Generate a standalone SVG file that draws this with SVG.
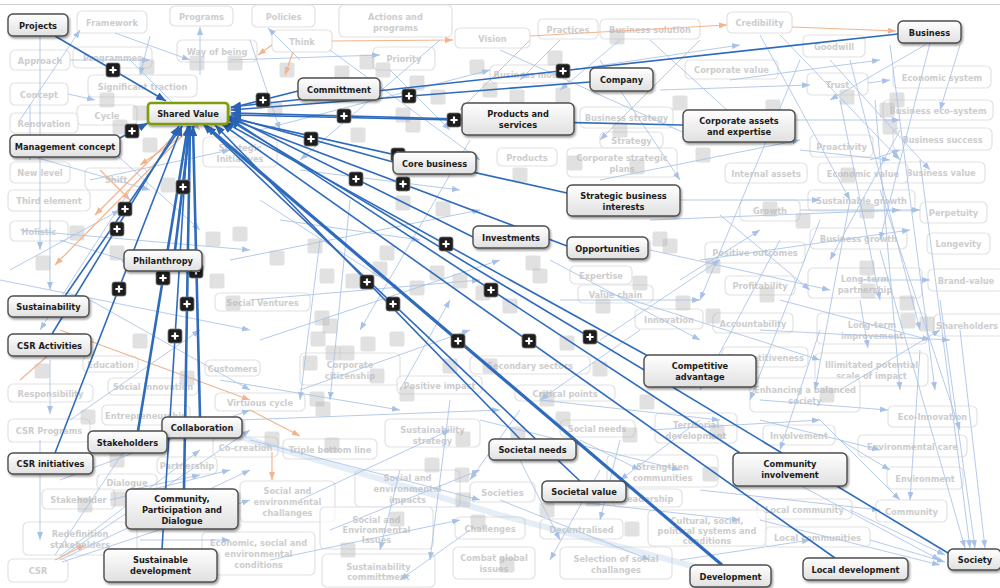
<svg xmlns="http://www.w3.org/2000/svg" xmlns:xlink="http://www.w3.org/1999/xlink" width="1000" height="588" viewBox="0 0 1000 588">
<defs>
<style>
text{font-family:"DejaVu Sans Condensed","DejaVu Sans","Liberation Sans",sans-serif;font-stretch:condensed;font-weight:bold;font-size:9.2px;text-anchor:middle}
.fn rect{fill:#fff;fill-opacity:.65;stroke:#e2e2e2;stroke-width:1.2}
.fn text{fill:#cdcdcd}
.mn rect{fill:url(#gw);stroke:#4d4d4d;stroke-width:1.4;filter:url(#sh)}
.mn text{fill:#1b1b1b}
.lt path{fill:none;stroke:#a8c2e6;stroke-width:1;stroke-opacity:.85;marker-end:url(#ma)}
.or path{fill:none;stroke:#f1b48f;stroke-width:1.2;marker-end:url(#mo)}
.dk path{fill:none;stroke:#2f6bbd;stroke-width:1.6;marker-end:url(#md)}
.dk path.w{stroke-width:2.6}
.dk path.x{stroke-width:3.2}
</style>
<linearGradient id="gw" x1="0" y1="0" x2="0" y2="1"><stop offset="0" stop-color="#ffffff"/><stop offset="1" stop-color="#e0e0e0"/></linearGradient>
<filter id="sh" x="-10%" y="-20%" width="130%" height="160%"><feDropShadow dx="1.2" dy="1.8" stdDeviation="1.3" flood-color="#000" flood-opacity=".4"/></filter>
<marker id="ma" viewBox="0 0 8 6" refX="8" refY="3" markerWidth="8" markerHeight="6" markerUnits="userSpaceOnUse" orient="auto"><path d="M0 0L8 3L0 6z" fill="#a8c2e6"/></marker>
<marker id="mo" viewBox="0 0 8 6" refX="8" refY="3" markerWidth="8" markerHeight="6" markerUnits="userSpaceOnUse" orient="auto"><path d="M0 0L8 3L0 6z" fill="#f1b48f"/></marker>
<marker id="md" viewBox="0 0 10 8" refX="10" refY="4" markerWidth="10" markerHeight="8" markerUnits="userSpaceOnUse" orient="auto"><path d="M0 0L10 4L0 8z" fill="#2a63b3"/></marker>
<g id="pb"><rect x="-7" y="-7" width="14" height="14" rx="2.5" fill="#1d1d1d" stroke="#777" stroke-width=".8"/><path d="M-3.6 0H3.6M0-3.6V3.6" stroke="#fff" stroke-width="2.2"/></g>
<rect id="gq" x="-7.5" y="-7.5" width="15" height="15" rx="2" fill="#b7b7b7" fill-opacity=".42"/>
</defs>
<rect width="1000" height="588" fill="#fff"/>
<path d="M0 4.5H1000" stroke="#cfcfcf" stroke-width="1.2"/>

<!-- background concept nodes -->
<g class="fn">
<g id="f-framework"><rect x="77" y="11" width="70" height="22" rx="5"/><text x="112" y="25.5">Framework</text></g>
<g id="f-programs"><rect x="170" y="6" width="63" height="20" rx="5"/><text x="201.5" y="19.5">Programs</text></g>
<g id="f-policies"><rect x="252" y="5" width="63" height="22" rx="5"/><text x="283.5" y="19.5">Policies</text></g>
<g id="f-actions"><rect x="339" y="5" width="113" height="32" rx="5"/><text x="395.5" y="19.5">Actions and</text><text x="395.5" y="30.5">programs</text></g>
<g id="f-think"><rect x="272" y="30" width="60" height="22" rx="5"/><text x="302" y="44.5">Think</text></g>
<g id="f-vision"><rect x="455" y="28" width="75" height="20" rx="5"/><text x="492.5" y="41.5">Vision</text></g>
<g id="f-priority"><rect x="373" y="47" width="62" height="23" rx="5"/><text x="404" y="62">Priority</text></g>
<g id="f-practices"><rect x="538" y="19" width="60" height="20" rx="5"/><text x="568" y="32.5">Practices</text></g>
<g id="f-bsolution"><rect x="600" y="19" width="100" height="20" rx="5"/><text x="650" y="32.5">Business solution</text></g>
<g id="f-credibility"><rect x="727" y="12" width="65" height="21" rx="5"/><text x="759.5" y="26">Credibility</text></g>
<g id="f-corpvalue"><rect x="685" y="60" width="93" height="19" rx="5"/><text x="731.5" y="73">Corporate value</text></g>
<g id="f-goodwill"><rect x="803" y="35" width="62" height="22" rx="5"/><text x="834" y="49.5">Goodwill</text></g>
<g id="f-econsystem"><rect x="893" y="66" width="98" height="22" rx="5"/><text x="942" y="80.5">Economic system</text></g>
<g id="f-trust"><rect x="807" y="73" width="61" height="22" rx="5"/><text x="837.5" y="87.5">Trust</text></g>
<g id="f-ecosystem"><rect x="883" y="100" width="110" height="20" rx="5"/><text x="938" y="113.5">Business eco-system</text></g>
<g id="f-bsuccess"><rect x="893" y="128" width="99" height="22" rx="5"/><text x="942.5" y="142.5">Business success</text></g>
<g id="f-proactivity"><rect x="810" y="135" width="63" height="22" rx="5"/><text x="841.5" y="149.5">Proactivity</text></g>
<g id="f-bvalue"><rect x="897" y="162" width="88" height="21" rx="5"/><text x="941" y="176">Business value</text></g>
<g id="f-econvalue"><rect x="818" y="163" width="90" height="20" rx="5"/><text x="863" y="176.5">Economic value</text></g>
<g id="f-internal"><rect x="725" y="163" width="82" height="20" rx="5"/><text x="766" y="176.5">Internal assets</text></g>
<g id="f-bstrategy"><rect x="580" y="107" width="93" height="21" rx="5"/><text x="626.5" y="121">Business strategy</text></g>
<g id="f-strategy"><rect x="600" y="132" width="63" height="16" rx="5"/><text x="631.5" y="143.5">Strategy</text></g>
<g id="f-corpplans"><rect x="567" y="148" width="110" height="29" rx="5"/><text x="622" y="160.5">Corporate strategic</text><text x="622" y="171.5">plans</text></g>
<g id="f-bmodel"><rect x="490" y="65" width="80" height="18" rx="5"/><text x="530" y="77.5">Business model</text></g>
<g id="f-products"><rect x="497" y="148" width="60" height="18" rx="5"/><text x="527" y="160.5">Products</text></g>
<g id="f-approach"><rect x="10" y="50" width="60" height="20" rx="5"/><text x="40" y="63.5">Approach</text></g>
<g id="f-programmes"><rect x="73" y="47" width="79" height="21" rx="5"/><text x="112.5" y="61">Programmes</text></g>
<g id="f-wayofbeing"><rect x="177" y="40" width="80" height="22" rx="5"/><text x="217" y="54.5">Way of being</text></g>
<g id="f-traction"><rect x="88" y="75" width="109" height="22" rx="5"/><text x="142.5" y="89.5">Significant traction</text></g>
<g id="f-concept"><rect x="10" y="83" width="58" height="22" rx="5"/><text x="39" y="97.5">Concept</text></g>
<g id="f-cycle"><rect x="77" y="105" width="60" height="20" rx="5"/><text x="107" y="118.5">Cycle</text></g>
<g id="f-renovation"><rect x="10" y="113" width="68" height="20" rx="5"/><text x="44" y="126.5">Renovation</text></g>
<g id="f-newlevel"><rect x="10" y="162" width="60" height="21" rx="5"/><text x="40" y="176">New level</text></g>
<g id="f-shift"><rect x="85" y="168" width="62" height="22" rx="5"/><text x="116" y="182.5">Shift</text></g>
<g id="f-initiatives"><rect x="203" y="137" width="74" height="30" rx="5"/><text x="240" y="150.5">Strategic</text><text x="240" y="161.5">Initiatives</text></g>
<g id="f-third"><rect x="8" y="190" width="82" height="21" rx="5"/><text x="49" y="204">Third element</text></g>
<g id="f-holistic"><rect x="10" y="221" width="58" height="20" rx="5"/><text x="39" y="234.5">Holistic</text></g>
<g id="f-ventures"><rect x="215" y="293" width="95" height="18" rx="5"/><text x="262.5" y="305.5">Social Ventures</text></g>
<g id="f-responsibility"><rect x="8" y="384" width="85" height="18" rx="5"/><text x="50.5" y="396.5">Responsibility</text></g>
<g id="f-csrprograms"><rect x="8" y="419" width="82" height="23" rx="5"/><text x="49" y="434">CSR Programs</text></g>
<g id="f-entrepreneurship"><rect x="102" y="405" width="88" height="20" rx="5"/><text x="146" y="418.5">Entrepreneurship</text></g>
<g id="f-partnership"><rect x="157" y="457" width="60" height="17" rx="5"/><text x="187" y="469">Partnership</text></g>
<g id="f-dialogue"><rect x="97" y="474" width="60" height="16" rx="5"/><text x="127" y="485.5">Dialogue</text></g>
<g id="f-stakeholder"><rect x="42" y="489" width="73" height="20" rx="5"/><text x="78.5" y="502.5">Stakeholder</text></g>
<g id="f-redefinition"><rect x="23" y="522" width="114" height="33" rx="5"/><text x="80" y="536.5">Redefinition</text><text x="80" y="547.5">stakeholders</text></g>
<g id="f-csr"><rect x="8" y="559" width="60" height="23" rx="5"/><text x="38" y="574">CSR</text></g>
<g id="f-conditions"><rect x="202" y="532" width="113" height="43" rx="5"/><text x="258.5" y="546">Economic, social and</text><text x="258.5" y="557">environmental</text><text x="258.5" y="568">conditions</text></g>
<g id="f-challanges"><rect x="240" y="481" width="95" height="41" rx="5"/><text x="287.5" y="494">Social and</text><text x="287.5" y="505">environmental</text><text x="287.5" y="516">challanges</text></g>
<g id="f-triple"><rect x="283" y="439" width="94" height="20" rx="5"/><text x="330" y="452.5">Triple bottom line</text></g>
<g id="f-virtuous"><rect x="215" y="393" width="90" height="18" rx="5"/><text x="260" y="405.5">Virtuous cycle</text></g>
<g id="f-susstrategy"><rect x="385" y="419" width="95" height="28" rx="5"/><text x="432.5" y="432.5">Sustainability</text><text x="432.5" y="443.5">strategy</text></g>
<g id="f-impacts"><rect x="355" y="470" width="105" height="37" rx="5"/><text x="407.5" y="480.5">Social and</text><text x="407.5" y="491.5">environmental</text><text x="407.5" y="502.5">impacts</text></g>
<g id="f-issues"><rect x="320" y="507" width="113" height="42" rx="5"/><text x="376.5" y="522.5">Social and</text><text x="376.5" y="532.5">Environmental</text><text x="376.5" y="542.5">Issues</text></g>
<g id="f-committment"><rect x="322" y="554" width="113" height="33" rx="5"/><text x="378.5" y="569.5">Sustainability</text><text x="378.5" y="579.5">committment</text></g>
<g id="f-cocreation"><rect x="213" y="437" width="65" height="20" rx="5"/><text x="245.5" y="450.5">Co-creation</text></g>
<g id="f-education"><rect x="83" y="356" width="55" height="16" rx="5"/><text x="110.5" y="367.5">Education</text></g>
<g id="f-socinnov"><rect x="108" y="378" width="90" height="17" rx="5"/><text x="153" y="390">Social innovation</text></g>
<g id="f-customers"><rect x="205" y="360" width="55" height="16" rx="5"/><text x="232.5" y="371.5">Customers</text></g>
<g id="f-citizenship"><rect x="300" y="353" width="100" height="32" rx="5"/><text x="350" y="367.5">Corporate</text><text x="350" y="378.5">citizenship</text></g>
<g id="f-posimpact"><rect x="397" y="376" width="85" height="18" rx="5"/><text x="439.5" y="388.5">Positive impact</text></g>
<g id="f-secondary"><rect x="470" y="356" width="120" height="18" rx="5"/><text x="530" y="368.5">Secondary sectors</text></g>
<g id="f-expertise"><rect x="570" y="266" width="62" height="18" rx="5"/><text x="601" y="278.5">Expertise</text></g>
<g id="f-valuechain"><rect x="578" y="285" width="75" height="18" rx="5"/><text x="615.5" y="297.5">Value chain</text></g>
<g id="f-innovation"><rect x="635" y="309" width="68" height="20" rx="5"/><text x="669" y="322.5">Innovation</text></g>
<g id="f-accountability"><rect x="713" y="313" width="80" height="20" rx="5"/><text x="753" y="326.5">Accountability</text></g>
<g id="f-outcomes"><rect x="705" y="242" width="100" height="21" rx="5"/><text x="755" y="256">Positive outcomes</text></g>
<g id="f-profitability"><rect x="725" y="276" width="70" height="19" rx="5"/><text x="760" y="289">Profitability</text></g>
<g id="f-competitiveness"><rect x="722" y="347" width="86" height="20" rx="5"/><text x="765" y="360.5">Competitiveness</text></g>
<g id="f-growth"><rect x="740" y="200" width="60" height="21" rx="5"/><text x="770" y="214">Growth</text></g>
<g id="f-susgrowth"><rect x="808" y="190" width="107" height="21" rx="5"/><text x="861.5" y="204">Sustainable growth</text></g>
<g id="f-bgrowth"><rect x="810" y="228" width="97" height="21" rx="5"/><text x="858.5" y="242">Business growth</text></g>
<g id="f-perpetuity"><rect x="920" y="202" width="67" height="21" rx="5"/><text x="953.5" y="216">Perpetuity</text></g>
<g id="f-longevity"><rect x="927" y="233" width="63" height="21" rx="5"/><text x="958.5" y="247">Longevity</text></g>
<g id="f-ltpartner"><rect x="808" y="268" width="114" height="30" rx="5"/><text x="865" y="281.5">Long-term</text><text x="865" y="292.5">partnership</text></g>
<g id="f-brand"><rect x="928" y="269" width="75" height="22" rx="5"/><text x="966" y="283.5">Brand-value</text></g>
<g id="f-ltimprove"><rect x="817" y="313" width="110" height="31" rx="5"/><text x="872" y="327.5">Long-term</text><text x="872" y="338.5">improvement</text></g>
<g id="f-shareholders"><rect x="934" y="314" width="72" height="22" rx="5"/><text x="967" y="328.5">Shareholders</text></g>
<g id="f-illimitated"><rect x="815" y="353" width="113" height="33" rx="5"/><text x="871.5" y="367.5">Illimitated potential</text><text x="871.5" y="378.5">scale of impact</text></g>
<g id="f-balanced"><rect x="750" y="378" width="110" height="34" rx="5"/><text x="805" y="392.5">Enhancing a balanced</text><text x="805" y="403.5">society</text></g>
<g id="f-ecoinnov"><rect x="888" y="406" width="89" height="21" rx="5"/><text x="932.5" y="420">Eco-Innovation</text></g>
<g id="f-involvement"><rect x="763" y="425" width="72" height="20" rx="5"/><text x="799" y="438.5">Involvement</text></g>
<g id="f-envcare"><rect x="858" y="435" width="109" height="22" rx="5"/><text x="912.5" y="449.5">Environmental care</text></g>
<g id="f-environment"><rect x="887" y="467" width="76" height="22" rx="5"/><text x="925" y="481.5">Environment</text></g>
<g id="f-localcomm"><rect x="757" y="499" width="95" height="20" rx="5"/><text x="804.5" y="512.5">Local community</text></g>
<g id="f-community"><rect x="876" y="500" width="71" height="22" rx="5"/><text x="911.5" y="514.5">Community</text></g>
<g id="f-localcomms"><rect x="765" y="527" width="105" height="20" rx="5"/><text x="817.5" y="540.5">Local communities</text></g>
<g id="f-territorial"><rect x="655" y="413" width="82" height="30" rx="5"/><text x="696" y="427.5">Territorial</text><text x="696" y="438.5">development</text></g>
<g id="f-strengthen"><rect x="607" y="455" width="111" height="32" rx="5"/><text x="662.5" y="469.5">Strengthen</text><text x="662.5" y="480.5">communities</text></g>
<g id="f-leadership"><rect x="613" y="489" width="69" height="18" rx="5"/><text x="647.5" y="501.5">Leadership</text></g>
<g id="f-cultural"><rect x="648" y="510" width="118" height="36" rx="5"/><text x="707" y="523.5">Cultural, social,</text><text x="707" y="533.5">political systems and</text><text x="707" y="543.5">conditions</text></g>
<g id="f-decentralised"><rect x="540" y="519" width="83" height="20" rx="5"/><text x="581.5" y="532.5">Decentralised</text></g>
<g id="f-societies"><rect x="470" y="482" width="65" height="20" rx="5"/><text x="502.5" y="495.5">Societies</text></g>
<g id="f-challenges"><rect x="455" y="517" width="70" height="22" rx="5"/><text x="490" y="531.5">Challenges</text></g>
<g id="f-combat"><rect x="453" y="547" width="82" height="32" rx="5"/><text x="494" y="560.5">Combat global</text><text x="494" y="571.5">issues</text></g>
<g id="f-selection"><rect x="560" y="547" width="112" height="32" rx="5"/><text x="616" y="561.5">Selection of social</text><text x="616" y="572.5">challanges</text></g>
<g id="f-critical"><rect x="515" y="385" width="100" height="16" rx="5"/><text x="565" y="396.5">Critical points</text></g>
<g id="f-socneeds"><rect x="560" y="420" width="75" height="17" rx="5"/><text x="597" y="432">Social needs</text></g>
</g>

<!-- collapsed node markers -->
<g id="markers">
<use href="#gq" x="147" y="67"/><use href="#gq" x="197" y="63"/><use href="#gq" x="235" y="63"/><use href="#gq" x="107" y="100"/><use href="#gq" x="140" y="113"/><use href="#gq" x="120" y="127"/><use href="#gq" x="150" y="145"/><use href="#gq" x="168" y="185"/>
<use href="#gq" x="367" y="62"/><use href="#gq" x="383" y="70"/><use href="#gq" x="342" y="73"/><use href="#gq" x="287" y="70"/><use href="#gq" x="417" y="83"/><use href="#gq" x="438" y="97"/><use href="#gq" x="403" y="115"/><use href="#gq" x="413" y="125"/><use href="#gq" x="358" y="135"/><use href="#gq" x="477" y="67"/><use href="#gq" x="490" y="90"/><use href="#gq" x="275" y="110"/>
<use href="#gq" x="617" y="37"/><use href="#gq" x="555" y="58"/><use href="#gq" x="563" y="95"/><use href="#gq" x="517" y="97"/><use href="#gq" x="680" y="103"/><use href="#gq" x="620" y="130"/><use href="#gq" x="703" y="155"/><use href="#gq" x="575" y="163"/><use href="#gq" x="637" y="167"/><use href="#gq" x="520" y="175"/>
<use href="#gq" x="847" y="97"/><use href="#gq" x="897" y="100"/><use href="#gq" x="887" y="110"/><use href="#gq" x="890" y="127"/><use href="#gq" x="773" y="107"/><use href="#gq" x="848" y="175"/>
<use href="#gq" x="43" y="263"/><use href="#gq" x="77" y="233"/><use href="#gq" x="117" y="253"/><use href="#gq" x="213" y="239"/><use href="#gq" x="240" y="234"/><use href="#gq" x="217" y="281"/><use href="#gq" x="233" y="303"/><use href="#gq" x="140" y="341"/><use href="#gq" x="42" y="371"/><use href="#gq" x="187" y="378"/>
<use href="#gq" x="277" y="258"/><use href="#gq" x="315" y="246"/><use href="#gq" x="327" y="276"/><use href="#gq" x="353" y="281"/><use href="#gq" x="322" y="318"/><use href="#gq" x="330" y="326"/><use href="#gq" x="318" y="339"/><use href="#gq" x="333" y="353"/><use href="#gq" x="397" y="339"/><use href="#gq" x="368" y="344"/><use href="#gq" x="310" y="363"/><use href="#gq" x="380" y="269"/><use href="#gq" x="387" y="253"/><use href="#gq" x="437" y="273"/><use href="#gq" x="417" y="288"/><use href="#gq" x="460" y="281"/><use href="#gq" x="483" y="293"/><use href="#gq" x="443" y="209"/><use href="#gq" x="403" y="203"/><use href="#gq" x="490" y="366"/><use href="#gq" x="450" y="366"/><use href="#gq" x="377" y="376"/><use href="#gq" x="347" y="353"/>
<use href="#gq" x="533" y="263"/><use href="#gq" x="540" y="276"/><use href="#gq" x="510" y="306"/><use href="#gq" x="603" y="306"/><use href="#gq" x="567" y="343"/><use href="#gq" x="600" y="369"/><use href="#gq" x="683" y="303"/><use href="#gq" x="713" y="316"/><use href="#gq" x="670" y="246"/><use href="#gq" x="713" y="266"/><use href="#gq" x="660" y="239"/><use href="#gq" x="640" y="283"/>
<use href="#gq" x="867" y="211"/><use href="#gq" x="803" y="221"/><use href="#gq" x="770" y="209"/><use href="#gq" x="867" y="268"/><use href="#gq" x="868" y="291"/><use href="#gq" x="907" y="303"/><use href="#gq" x="908" y="321"/><use href="#gq" x="927" y="324"/><use href="#gq" x="767" y="295"/>
<use href="#gq" x="88" y="417"/><use href="#gq" x="117" y="460"/><use href="#gq" x="85" y="505"/><use href="#gq" x="118" y="499"/>
<use href="#gq" x="317" y="399"/><use href="#gq" x="323" y="409"/><use href="#gq" x="272" y="439"/><use href="#gq" x="332" y="445"/><use href="#gq" x="463" y="439"/><use href="#gq" x="432" y="465"/><use href="#gq" x="462" y="475"/><use href="#gq" x="463" y="500"/><use href="#gq" x="397" y="519"/><use href="#gq" x="348" y="550"/><use href="#gq" x="478" y="522"/><use href="#gq" x="407" y="394"/>
<use href="#gq" x="547" y="399"/><use href="#gq" x="647" y="402"/><use href="#gq" x="563" y="419"/><use href="#gq" x="630" y="435"/><use href="#gq" x="518" y="434"/><use href="#gq" x="717" y="432"/><use href="#gq" x="710" y="474"/><use href="#gq" x="547" y="510"/><use href="#gq" x="632" y="529"/><use href="#gq" x="507" y="565"/><use href="#gq" x="593" y="499"/><use href="#gq" x="827" y="395"/>
</g>

<!-- connectors -->
<g id="connectors">
<path d="M200 425L500 515L700 568" fill="none" stroke="#a8c2e6" stroke-width="6" stroke-opacity=".3"/>
<g class="lt">
<path d="M40 36L40 250"/><path d="M150 36L140 75"/><path d="M115 33L190 60"/><path d="M70 60L150 60"/><path d="M68 94L95 100"/><path d="M200 75L200 27"/><path d="M300 60L268 28"/><path d="M30 105L30 160"/><path d="M50 220L50 290"/><path d="M130 60L200 130"/><path d="M10 150L150 190"/><path d="M90 180L230 150"/><path d="M20 230L250 250"/><path d="M60 240L130 262"/><path d="M0 280L250 330"/><path d="M130 190L40 330"/><path d="M90 300L250 390"/><path d="M50 360L50 414"/><path d="M40 440L40 540"/><path d="M60 480L250 410"/><path d="M60 558L250 430"/><path d="M60 560L250 470"/><path d="M62 562L250 500"/><path d="M60 556L200 450"/><path d="M55 555L130 442"/><path d="M110 500L230 470"/><path d="M140 540L230 540"/><path d="M130 490L200 475"/><path d="M20 120L80 30"/><path d="M100 140L200 230"/><path d="M10 270L120 210"/><path d="M70 420L200 330"/>
<path d="M230 60L380 55"/><path d="M250 40L280 130"/><path d="M330 50L480 160"/><path d="M390 70L450 130"/><path d="M260 130L490 70"/><path d="M300 170L460 190"/><path d="M260 200L400 290"/><path d="M230 260L480 210"/><path d="M250 300L480 280"/><path d="M260 340L500 260"/><path d="M300 390L470 330"/><path d="M320 240L300 400"/><path d="M350 200L330 400"/><path d="M400 390L450 300"/><path d="M240 420L500 410"/><path d="M250 440L480 500"/><path d="M300 500L450 430"/><path d="M330 530L480 470"/><path d="M270 560L460 520"/><path d="M400 470L380 550"/><path d="M450 400L430 560"/><path d="M220 380L400 410"/><path d="M280 220L420 240"/><path d="M440 40L300 160"/><path d="M470 140L360 330"/>
<path d="M560 40L520 80"/><path d="M620 40L560 90"/><path d="M650 40L760 140"/><path d="M700 40L600 140"/><path d="M760 35L850 200"/><path d="M780 35L900 160"/><path d="M830 60L930 170"/><path d="M868 83L890 80"/><path d="M960 45L940 110"/><path d="M930 43L880 240"/><path d="M925 45L830 100"/><path d="M730 80L880 60"/><path d="M660 90L810 85"/><path d="M570 70L740 45"/><path d="M500 50L700 140"/><path d="M780 120L900 120"/><path d="M800 150L890 160"/><path d="M870 160L900 150"/><path d="M840 100L880 300"/><path d="M850 60L920 330"/><path d="M900 130L830 260"/><path d="M600 180L800 140"/><path d="M680 200L820 200"/><path d="M530 40L460 110"/><path d="M600 60L680 180"/>
<path d="M650 220L900 210"/><path d="M700 260L910 230"/><path d="M800 210L920 210"/><path d="M720 215L810 290"/><path d="M650 250L830 290"/><path d="M600 290L820 360"/><path d="M780 300L930 340"/><path d="M860 280L930 280"/><path d="M860 300L868 348"/><path d="M820 220L750 400"/><path d="M880 190L960 430"/><path d="M880 250L965 548"/><path d="M940 300L975 548"/><path d="M960 330L985 548"/><path d="M840 390L940 330"/><path d="M760 330L950 340"/><path d="M560 300L700 300"/><path d="M550 260L700 340"/><path d="M600 340L720 260"/><path d="M640 330L540 400"/><path d="M680 280L760 230"/><path d="M780 240L700 390"/><path d="M820 330L780 450"/><path d="M890 45L935 390"/><path d="M875 100L900 390"/><path d="M850 200L815 390"/><path d="M920 160L970 548"/><path d="M800 60L700 300"/>
<path d="M760 400L888 410"/><path d="M760 420L880 450"/><path d="M840 440L890 470"/><path d="M790 480L940 560"/><path d="M850 510L945 555"/><path d="M870 540L945 562"/><path d="M820 420L900 500"/><path d="M920 350L910 500"/><path d="M650 430L820 420"/><path d="M700 490L880 510"/><path d="M600 470L550 560"/><path d="M520 460L560 540"/><path d="M560 500L740 520"/><path d="M500 500L650 560"/><path d="M620 440L600 520"/><path d="M480 420L680 470"/><path d="M540 400L720 420"/><path d="M700 420L620 480"/><path d="M760 520L940 565"/><path d="M470 530L400 580"/><path d="M680 560L810 540"/><path d="M520 410L470 480"/><path d="M580 440L640 470"/>
</g>
<g class="or">
<path d="M332 41L453 40"/><path d="M792 27L896 31"/><path d="M530 36L727 25"/><path d="M293 52L285 75"/><path d="M272 45L258 55"/><path d="M198 125L140 165"/><path d="M190 128L55 265"/><path d="M180 130L95 215"/><path d="M60 330L250 400"/><path d="M250 410L300 436"/><path d="M272 452L272 480"/><path d="M55 560L85 545"/><path d="M20 380L60 345"/><path d="M100 170L130 200"/>
</g>
<g class="dk">
<path d="M55 36L166 101"/>
<path d="M118 139L148 123"/>
<path d="M298 91L231 108"/>
<path d="M590 82L231 110"/>
<path d="M898 34L231 107"/>
<path d="M462 119L231 113"/>
<path d="M683 125L231 115"/>
<path d="M393 162L231 117"/>
<path d="M567 193L230 118"/>
<path d="M473 237L229 116"/>
<path d="M567 246L228 118"/>
<path d="M648 356L224 122"/>
<path d="M740 453L229 118"/>
<path d="M948 553L229 120"/>
<path d="M835 558L222 124"/>
<path class="x" d="M722 565L206 126"/>
<path d="M580 481L203 124"/>
<path d="M520 439L215 125"/>
<path class="w" d="M175 250L190 126"/>
<path d="M65 296L182 126"/>
<path d="M52 334L179 126"/>
<path d="M55 453L182 126"/>
<path class="w" d="M138 431L188 126"/>
<path class="w" d="M200 417L193 126"/>
<path class="w" d="M184 489L190 126"/>
<path d="M162 549L188 126"/>
</g>
</g>

<!-- expand buttons on connectors -->
<g id="buttons">
<use href="#pb" x="113" y="70"/><use href="#pb" x="132" y="131"/><use href="#pb" x="263" y="100"/><use href="#pb" x="409" y="96"/><use href="#pb" x="563" y="71"/><use href="#pb" x="344" y="116"/><use href="#pb" x="454" y="120"/><use href="#pb" x="311" y="139"/><use href="#pb" x="398" y="155"/><use href="#pb" x="356" y="179"/><use href="#pb" x="403" y="184"/><use href="#pb" x="446" y="244"/><use href="#pb" x="491" y="290"/><use href="#pb" x="590" y="337"/><use href="#pb" x="529" y="341"/><use href="#pb" x="458" y="341"/><use href="#pb" x="393" y="304"/><use href="#pb" x="367" y="282"/><use href="#pb" x="183" y="187"/><use href="#pb" x="125" y="209"/><use href="#pb" x="117" y="229"/><use href="#pb" x="119" y="289"/><use href="#pb" x="163" y="278"/><use href="#pb" x="196" y="271"/><use href="#pb" x="187" y="304"/><use href="#pb" x="175" y="336"/>
</g>

<!-- concept nodes -->
<g class="mn">
<g id="n-projects"><rect x="8" y="14" width="60" height="22" rx="5"/><text x="38" y="28.5">Projects</text></g>
<g id="n-shared-value"><rect x="148" y="103" width="80" height="21" rx="3" style="stroke:#7f9c10;stroke-width:2.6;fill:url(#gw)"/><text x="188" y="117">Shared Value</text></g>
<g id="n-management"><rect x="10" y="135" width="110" height="22" rx="5"/><text x="65" y="149.5">Management concept</text></g>
<g id="n-committment"><rect x="298" y="78" width="82" height="22" rx="5"/><text x="339" y="92.5">Committment</text></g>
<g id="n-company"><rect x="590" y="68" width="63" height="23" rx="5"/><text x="621.5" y="83">Company</text></g>
<g id="n-products"><rect x="462" y="103" width="112" height="32" rx="5"/><text x="518" y="117">Products and</text><text x="518" y="128">services</text></g>
<g id="n-corporate"><rect x="683" y="110" width="112" height="32" rx="5"/><text x="739" y="124">Corporate assets</text><text x="739" y="135">and expertise</text></g>
<g id="n-business"><rect x="898" y="21" width="63" height="22" rx="5"/><text x="929.5" y="35.5">Business</text></g>
<g id="n-core"><rect x="393" y="152" width="83" height="22" rx="5"/><text x="434.5" y="166.5">Core business</text></g>
<g id="n-strategic"><rect x="567" y="185" width="113" height="31" rx="5"/><text x="623.5" y="199">Strategic business</text><text x="623.5" y="210">interests</text></g>
<g id="n-investments"><rect x="473" y="226" width="76" height="22" rx="5"/><text x="511" y="240.5">Investments</text></g>
<g id="n-opportunities"><rect x="567" y="237" width="81" height="22" rx="5"/><text x="607.5" y="251.5">Opportunities</text></g>
<g id="n-philanthropy"><rect x="124" y="250" width="78" height="21" rx="5"/><text x="163" y="264">Philanthropy</text></g>
<g id="n-sustainability"><rect x="8" y="296" width="81" height="21" rx="5"/><text x="48.5" y="310">Sustainability</text></g>
<g id="n-csr-activities"><rect x="8" y="334" width="83" height="22" rx="5"/><text x="49.5" y="348.5">CSR Activities</text></g>
<g id="n-competitive"><rect x="644" y="355" width="112" height="32" rx="5"/><text x="700" y="369">Competitive</text><text x="700" y="380">advantage</text></g>
<g id="n-collaboration"><rect x="162" y="417" width="80" height="21" rx="5"/><text x="202" y="431">Collaboration</text></g>
<g id="n-stakeholders"><rect x="88" y="431" width="79" height="22" rx="5"/><text x="127.5" y="445.5">Stakeholders</text></g>
<g id="n-csr-initiatives"><rect x="8" y="453" width="85" height="21" rx="5"/><text x="50.5" y="467">CSR initiatives</text></g>
<g id="n-societal-needs"><rect x="489" y="439" width="87" height="21" rx="5"/><text x="532.5" y="453">Societal needs</text></g>
<g id="n-participation"><rect x="126" y="489" width="112" height="40" rx="5"/><text x="182" y="501.5">Community,</text><text x="182" y="512.5">Participation and</text><text x="182" y="523.5">Dialogue</text></g>
<g id="n-societal-value"><rect x="542" y="481" width="84" height="21" rx="5"/><text x="584" y="495">Societal value</text></g>
<g id="n-community-involvement"><rect x="733" y="453" width="114" height="33" rx="5"/><text x="790" y="467">Community</text><text x="790" y="478">involvement</text></g>
<g id="n-sustainable-development"><rect x="104" y="549" width="113" height="33" rx="5"/><text x="160.5" y="563">Sustainable</text><text x="160.5" y="574">development</text></g>
<g id="n-development"><rect x="690" y="565" width="81" height="22" rx="5"/><text x="730.5" y="579.5">Development</text></g>
<g id="n-local-development"><rect x="803" y="558" width="105" height="22" rx="5"/><text x="855.5" y="572.5">Local development</text></g>
<g id="n-society"><rect x="948" y="549" width="53" height="21" rx="5"/><text x="975" y="563">Society</text></g>
</g>
</svg>
